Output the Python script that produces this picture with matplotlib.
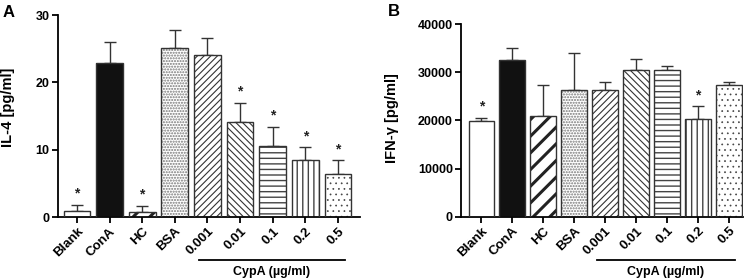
import matplotlib
matplotlib.use("Agg")
import matplotlib.pyplot as plt
import numpy as np

plt.rcParams['font.family'] = ['Liberation Sans', 'DejaVu Sans']
plt.rcParams['font.weight'] = 'bold'

categories = ["Blank", "ConA", "HC", "BSA", "0.001", "0.01", "0.1", "0.2", "0.5"]

il4_mean = [0.9, 22.9, 0.8, 25.1, 24.0, 14.1, 10.5, 8.5, 6.4]
il4_top = [1.8, 26.0, 1.7, 27.8, 26.6, 17.0, 13.4, 10.4, 8.4]
il4_star = [True, False, True, False, False, True, True, True, True]

ifn_mean = [19900, 32600, 21000, 26400, 26400, 30400, 30500, 20300, 27400]
ifn_top = [20600, 35000, 27400, 34000, 27900, 32800, 31300, 22900, 27900]
ifn_star = [True, False, False, False, False, False, False, True, False]

hatches = [None, None, '//', '......', '/////', '\\\\\\\\\\', '---', '|||', '...']
faces = ['white', '#111111', 'white', 'white', 'white', 'white', 'white', 'white', 'white']
hatch_lw = [1, 1, 2.2, 1.0, 0.8, 0.8, 1.0, 1.0, 0.5]
hatch_ec = ['#333333', '#333333', '#222222', '#777777', '#333333', '#333333', '#444444', '#444444', '#444444']

fig = plt.figure(figsize=(7.51, 2.80), dpi=100)
axA = fig.add_axes([0.0772, 0.225, 0.402, 0.721])
axB = fig.add_axes([0.614, 0.226, 0.375, 0.688])

def draw(ax, means, tops, stars, ylim, yticks, xlim, fmt):
    x = np.arange(len(categories))
    for i in range(len(categories)):
        with plt.rc_context({'hatch.linewidth': hatch_lw[i]}):
            b = ax.bar(x[i], means[i], width=0.82, color=faces[i],
                       edgecolor=hatch_ec[i], hatch=hatches[i], linewidth=0, zorder=2)
            for p in b:
                if hasattr(p, 'set_hatch_linewidth'):
                    p.set_hatch_linewidth(hatch_lw[i])
        ax.bar(x[i], means[i], width=0.82, color='none', edgecolor='#333333',
               linewidth=1.0, zorder=3)
    err = np.array(tops) - np.array(means)
    ax.errorbar(x, means, yerr=[np.zeros(len(x)), err], fmt='none', ecolor='#333333',
                elinewidth=1.0, capsize=4.5, capthick=1.0, zorder=1)
    for i in range(len(x)):
        if stars[i]:
            ax.text(x[i], tops[i] + (ylim[1] - ylim[0]) * 0.02, '*', ha='center', va='bottom',
                    fontsize=10, fontweight='bold', color='#222222')
    ax.set_ylim(*ylim)
    ax.set_xlim(*xlim)
    ax.set_yticks(yticks)
    ax.set_yticklabels([fmt(v) for v in yticks], fontsize=9, fontweight='bold')
    ax.set_xticks(x)
    ax.set_xticklabels(categories, rotation=45, ha='right', rotation_mode='anchor',
                       fontsize=9.5, fontweight='bold')
    ax.spines['top'].set_visible(False)
    ax.spines['right'].set_visible(False)
    ax.spines['left'].set_linewidth(1.3)
    ax.spines['bottom'].set_linewidth(1.3)
    ax.tick_params(axis='both', direction='out', length=4, width=1.3, pad=2)
    trans = matplotlib.transforms.blended_transform_factory(ax.transData, fig.transFigure)
    ax.plot([3.75, 8.2], [0.071, 0.071], transform=trans, color='black', lw=1.3, clip_on=False)
    ax.text(5.95, 0.03, 'CypA (µg/ml)', transform=trans, ha='center', va='center',
            fontsize=9, fontweight='bold')

draw(axA, il4_mean, il4_top, il4_star, (0, 30), [0, 10, 20, 30],
     (-0.58, 8.67), lambda v: f"{v:d}")
draw(axB, ifn_mean, ifn_top, ifn_star, (0, 40000), [0, 10000, 20000, 30000, 40000],
     (-0.65, 8.45), lambda v: f"{v:d}")

fig.text(0.0105, 0.618, 'IL-4 [pg/ml]', rotation=90, ha='center', va='center',
         fontsize=10.5, fontweight='bold')
fig.text(0.522, 0.579, 'IFN-γ [pg/ml]', rotation=90, ha='center', va='center',
         fontsize=10.5, fontweight='bold')

fig.text(0.003, 0.957, 'A', fontsize=12, fontweight='bold', va='center')
fig.text(0.516, 0.96, 'B', fontsize=12, fontweight='bold', va='center')

fig.savefig('out.png', dpi=100)
